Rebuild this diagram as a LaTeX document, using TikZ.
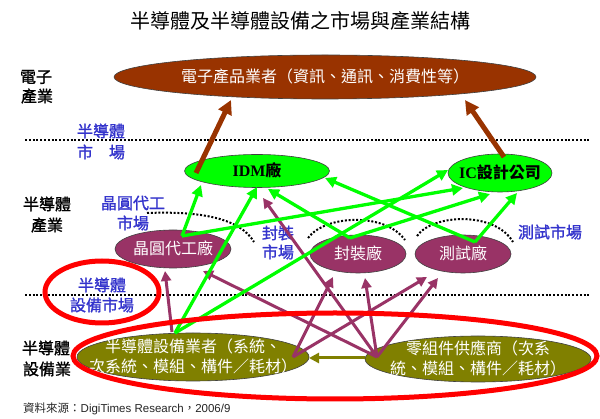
\documentclass[tikz,border=0pt]{standalone}
\usepackage{fontspec}
\setmainfont{Liberation Serif}
\newfontfamily\cjk{Noto Sans CJK TC}
\newfontfamily\cjklab[FakeBold=1.2]{Noto Sans CJK TC}
\newfontfamily\lsans{Liberation Sans}
\usetikzlibrary{shapes.geometric,arrows.meta,calc}
\definecolor{cbrown}{RGB}{153,51,0}
\definecolor{cgreen}{RGB}{0,255,0}
\definecolor{cpurple}{RGB}{153,51,102}
\definecolor{colive}{RGB}{128,128,0}
\definecolor{cred}{RGB}{255,0,0}
\definecolor{cblue}{RGB}{51,51,204}
\newcommand{\zbox}[1]{\makebox[0pt]{\raisebox{-0.37em}[0pt][0pt]{#1}}}
\begin{document}
\begin{tikzpicture}[x=1pt,y=-1pt,
  ell/.style={ellipse, inner sep=0pt, draw=black!75, line width=0.6pt},
  wtxt/.style={text=white, font=\cjk\fontsize{16}{20}\selectfont},
  btxt/.style={text=black, font=\bfseries\fontsize{16}{20}\selectfont},
  blab/.style={inner sep=0pt, text=cblue, font=\cjklab\fontsize{16}{19}\selectfont},
  klab/.style={inner sep=0pt, text=black, font=\cjklab\fontsize{16}{19}\selectfont},
  dotline/.style={draw=black, line width=2pt, dash pattern=on 2pt off 1.8pt},
  redring/.style={draw=cred, line width=5pt},
  garr/.style={draw=cgreen, line width=3.3pt, -{Triangle[length=11pt,width=11pt]}},
  parr/.style={draw=cpurple, line width=3pt, -{Triangle[length=10pt,width=10pt]}},
  barr/.style={draw=cbrown, line width=5pt, -{Triangle[length=14pt,width=14pt]}},
  oarr/.style={draw=colive, line width=3pt, -{Triangle[length=10pt,width=10pt]}}
]
\fill[white] (0,0) rectangle (600,419);
\useasboundingbox (0,0) rectangle (600,419);

% title
\node[inner sep=0pt, font=\cjk\fontsize{20}{24}\selectfont] (title) at (300,21) {半導體及半導體設備之市場與產業結構};

% dotted separators and market arcs
\draw[dotline] (25,140) -- (590,140);
\draw[dotline] (25,295) -- (590,295);
\draw[dotline] (147,213) .. controls (200,211) and (240,218) .. (254,242);
\draw[dotline] (308,238) .. controls (325,215) and (385,212) .. (405,240);
\draw[dotline] (417,236) .. controls (432,214) and (495,211) .. (513,242);

% side labels
\node[klab] (lE1) at (36,77) {電子};
\node[klab] (lE2) at (37,96) {產業};
\node[klab] (lS1) at (47,204) {半導體};
\node[klab] (lS2) at (47,225) {產業};
\node[klab] (lQ1) at (46,348) {半導體};
\node[klab] (lQ2) at (47,369) {設備業};

% market labels
\node[blab] (mS1) at (101,131) {半導體};
\node[blab] (mS2) at (101,152) {市　場};
\node[blab] (mW1) at (133,203) {晶圓代工};
\node[blab] (mW2) at (133,223) {市場};
\node[blab] (mP1) at (278,233) {封裝};
\node[blab] (mP2) at (278,252) {市場};
\node[blab] (mT) at (550,232) {測試市場};
\node[blab] (mQ1) at (102,285) {半導體};
\node[blab] (mQ2) at (102,305) {設備市場};

% ellipses
\node[ell, fill=cbrown, minimum width=422pt, minimum height=44pt, wtxt] (elec) at (325,77)
  {\zbox{電子產品業者（資訊、通訊、消費性等）}};
\node[ell, fill=cgreen, minimum width=145pt, minimum height=33pt, btxt] (idm) at (257,171)
  {\zbox{IDM{\cjk\bfseries 廠}}};
\node[ell, fill=cgreen, minimum width=104pt, minimum height=38pt, btxt] (ic) at (500,173)
  {\zbox{IC{\cjk\bfseries 設計公司}}};
\node[ell, fill=cpurple, minimum width=116pt, minimum height=38pt, wtxt] (wf) at (173,249)
  {\zbox{晶圓代工廠}};
\node[ell, fill=cpurple, minimum width=96pt, minimum height=38pt, wtxt] (pkg) at (358,254)
  {\zbox{封裝廠}};
\node[ell, fill=cpurple, minimum width=96pt, minimum height=38pt, wtxt] (tst) at (463,254)
  {\zbox{測試廠}};
\node[ell, fill=colive, minimum width=232pt, minimum height=48pt, wtxt] (eq) at (193,357)
  {\zbox{\begin{tabular}{@{}c@{}}半導體設備業者（系統、\\次系統、模組、構件／耗材）\end{tabular}}};
\node[ell, fill=colive, minimum width=226pt, minimum height=46pt, wtxt] (part) at (478,359)
  {\zbox{\begin{tabular}{@{}c@{}}零組件供應商（次系\\統、模組、構件／耗材）\end{tabular}}};

% brown arrows to electronics
\draw[barr] ($(idm.center)+(-61,2)$) -- ($(elec.center)+(-94,23)$);
\draw[barr] ($(ic.center)+(4,-16)$) -- ($(elec.center)+(140,23)$);

% purple arrows
\draw[parr] ($(eq.center)+(-21,-25)$) -- ($(wf.center)+(-8,22)$);
\draw[parr] ($(eq.center)+(100,0)$) -- ($(pkg.center)+(-25,23)$);
\draw[parr] ($(eq.center)+(100,0)$) -- ($(tst.center)+(-36,23)$);
\draw[parr] ($(part.center)+(-101,-2)$) -- ($(wf.center)+(30,22)$);
\draw[parr] ($(part.center)+(-101,-2)$) -- ($(idm.center)+(6,27)$);
\draw[parr] ($(part.center)+(-101,-2)$) -- ($(pkg.center)+(7,24)$);
\draw[parr] ($(part.center)+(-101,-2)$) -- ($(tst.center)+(-25,24)$);

% olive arrow
\draw[oarr] ($(part.center)+(-113,-1)$) -- ($(eq.center)+(116,1)$);

% green arrows
\draw[garr] ($(wf.center)+(9,-13)$) -- ($(idm.center)+(-56,14)$);
\draw[garr] ($(wf.center)+(9,-13)$) -- ($(ic.center)+(-37,15)$);
\draw[garr] ($(eq.center)+(-18,-24)$) -- ($(idm.center)+(0,16)$);
\draw[garr] ($(eq.center)+(-18,-24)$) -- ($(ic.center)+(-52,-3)$);
\draw[garr] ($(pkg.center)+(-8,-16)$) -- ($(idm.center)+(11,18)$);
\draw[garr] ($(pkg.center)+(-8,-16)$) -- ($(ic.center)+(-10,21)$);
\draw[garr] ($(tst.center)+(12,-12)$) -- ($(idm.center)+(68,7)$);
\draw[garr] ($(tst.center)+(12,-12)$) -- ($(ic.center)+(17,20)$);

% red highlight rings
\draw[redring] (102,292) ellipse [x radius=57, y radius=31];
\draw[redring] (335,356) ellipse [x radius=262, y radius=43];

% source
\node[anchor=west, inner sep=0pt, text=black!85, font=\fontsize{11.5}{14}\selectfont] (src) at (23,409)
  {{\cjk 資料來源：}{\lsans DigiTimes Research}{\cjk ，}{\lsans 2006/9}};
\end{tikzpicture}
\end{document}
